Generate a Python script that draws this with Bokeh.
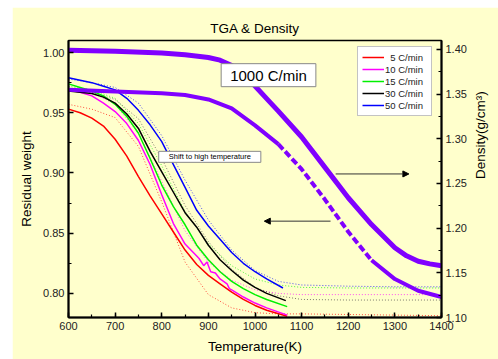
import math
from bokeh.plotting import figure
from bokeh.models import (Range1d, LinearAxis, SingleIntervalTicker, PrintfTickFormatter,
                          Legend, LegendItem, Label, Arrow, NormalHead)
from bokeh.embed import file_html
from bokeh.resources import INLINE

FONT = "Liberation Sans"
BG = "#FFFFCC"

# ---------------- data ----------------
rate_labels = ["5 C/min", "10 C/min", "15 C/min", "30 C/min", "50 C/min"]
rate_colors = ["#FF0000", "#FF00FF", "#00F000", "#000000", "#0000FF"]

# measured TGA (solid)
red_T = [600, 625, 650, 675, 700, 725, 750, 775, 800, 825, 850, 875, 900, 925, 950, 975, 1000, 1025, 1069]
red_w = [0.953, 0.950, 0.9455, 0.939, 0.928, 0.914, 0.897, 0.881, 0.866, 0.851, 0.836, 0.824, 0.815, 0.808, 0.801, 0.795, 0.790, 0.786, 0.781]

mag_T = [600, 625, 650, 675, 700, 725, 750, 775, 800, 825, 850, 875, 880, 890, 897, 905, 915, 925, 940, 945, 950, 975, 1000, 1025, 1069]
mag_w = [0.969, 0.967, 0.964, 0.958, 0.951, 0.941, 0.927, 0.907, 0.882, 0.858, 0.841, 0.831, 0.829, 0.823, 0.826, 0.818, 0.817, 0.812, 0.808, 0.804, 0.803, 0.797, 0.792, 0.788, 0.782]

grn_T = [600, 625, 650, 675, 700, 725, 750, 775, 800, 825, 850, 875, 900, 925, 950, 975, 1000, 1025, 1069]
grn_w = [0.974, 0.971, 0.968, 0.964, 0.957, 0.947, 0.933, 0.912, 0.890, 0.872, 0.857, 0.840, 0.828, 0.818, 0.810, 0.804, 0.799, 0.795, 0.789]

blk_T = [600, 625, 650, 675, 700, 725, 750, 775, 800, 825, 850, 875, 900, 925, 950, 975, 1000, 1025, 1066]
blk_w = [0.968, 0.967, 0.966, 0.963, 0.958, 0.949, 0.937, 0.918, 0.901, 0.884, 0.867, 0.855, 0.840, 0.828, 0.819, 0.811, 0.805, 0.800, 0.794]

blu_T = [600, 625, 650, 675, 700, 725, 750, 775, 800, 825, 850, 875, 900, 925, 950, 975, 1000, 1025, 1060]
blu_w = [0.979, 0.977, 0.975, 0.972, 0.969, 0.962, 0.952, 0.940, 0.926, 0.907, 0.888, 0.869, 0.856, 0.845, 0.834, 0.825, 0.818, 0.812, 0.8045]

# fitted TGA (dotted)
dot_T = [600, 650, 700, 750, 800, 850, 900, 950, 1000, 1050, 1100, 1200, 1300, 1400]
red_dot = [0.957, 0.953, 0.946, 0.922, 0.876, 0.826, 0.799, 0.788, 0.784, 0.783, 0.783, 0.7825, 0.782, 0.7815]
mag_dot = [0.970, 0.967, 0.957, 0.933, 0.893, 0.852, 0.826, 0.811, 0.803, 0.800, 0.799, 0.799, 0.799, 0.799]
grn_dot = [0.972, 0.969, 0.962, 0.941, 0.906, 0.868, 0.841, 0.823, 0.812, 0.807, 0.805, 0.8045, 0.8045, 0.8045]
blk_dot = [0.969, 0.967, 0.961, 0.945, 0.912, 0.873, 0.843, 0.820, 0.805, 0.798, 0.795, 0.7945, 0.7945, 0.7945]
blu_dot = [0.978, 0.975, 0.971, 0.958, 0.931, 0.894, 0.861, 0.836, 0.819, 0.810, 0.807, 0.806, 0.8055, 0.8055]

# density (right axis)
dh_T = [600, 700, 800, 850, 900, 925, 950, 975, 1000, 1025, 1050, 1100, 1150, 1200, 1250, 1300, 1325, 1350, 1375, 1400]
dens_high = [1.399, 1.398, 1.396, 1.394, 1.391, 1.388, 1.382, 1.372, 1.359, 1.345, 1.331, 1.302, 1.268, 1.234, 1.204, 1.178, 1.169, 1.163, 1.160, 1.158]
dl_T = [600, 700, 800, 850, 900, 950, 1000, 1050, 1100, 1150, 1200, 1250, 1300, 1350, 1400]
dens_low = [1.355, 1.353, 1.351, 1.349, 1.344, 1.334, 1.315, 1.294, 1.266, 1.232, 1.196, 1.164, 1.143, 1.130, 1.123]
dash_from, dash_to = 1050, 1250

x_ticks_interval = 100
w_range = (0.78, 1.01)
d_range = (1.10, 1.41)

# ---------------- figure ----------------
p = figure(width=486, height=352, output_backend="svg", toolbar_location=None,
           x_range=Range1d(600, 1400), y_range=Range1d(*w_range),
           min_border_left=56, min_border_right=55, min_border_top=33, min_border_bottom=42)
p.margin = (7, 0, 0, 12)
p.background_fill_color = BG
p.border_fill_color = BG
p.outline_line_color = "black"
p.outline_line_width = 1.5
p.xgrid.visible = False
p.ygrid.visible = False

p.title.text = "TGA & Density"
p.title.align = "center"
p.title.text_font = FONT
p.title.text_font_size = "13.5px"
p.title.text_font_style = "normal"
p.title.text_color = "black"

p.extra_y_ranges = {"dens": Range1d(*d_range)}
raxis = LinearAxis(y_range_name="dens")
p.add_layout(raxis, "right")

def style_axis(ax, label):
    ax.axis_label = label
    ax.axis_label_text_font = FONT
    ax.axis_label_text_font_size = "13.5px"
    ax.axis_label_text_font_style = "normal"
    ax.axis_label_text_color = "black"
    ax.major_label_text_font = FONT
    ax.major_label_text_font_size = "11px"
    ax.major_label_text_color = "#222222"
    ax.axis_line_width = 2
    ax.axis_line_color = "black"
    ax.major_tick_in = 5
    ax.major_tick_out = 0
    ax.minor_tick_in = 3
    ax.minor_tick_out = 0
    ax.major_tick_line_width = 1.5
    ax.minor_tick_line_width = 1.2
    ax.major_label_standoff = 4
    ax.axis_label_standoff = 6

xa = p.xaxis[0]
style_axis(xa, "Temperature(K)")
xa.ticker = SingleIntervalTicker(interval=x_ticks_interval, num_minor_ticks=2)

ya = p.yaxis[0]
style_axis(ya, "Residual weight")
ya.ticker = SingleIntervalTicker(interval=0.05, num_minor_ticks=2)
ya.formatter = PrintfTickFormatter(format="%.2f")

style_axis(raxis, "Density(g/cm\u00b3)")
raxis.ticker = SingleIntervalTicker(interval=0.05, num_minor_ticks=2)
raxis.formatter = PrintfTickFormatter(format="%.2f")
raxis.axis_label_orientation = math.pi / 2
raxis.axis_label_standoff = 11

# dotted fits
for xs, ys, c in [(dot_T, red_dot, rate_colors[0]), (dot_T, mag_dot, rate_colors[1]),
                  (dot_T, grn_dot, rate_colors[2]), (dot_T, blk_dot, "#444444"),
                  (dot_T, blu_dot, rate_colors[4])]:
    p.line(xs, ys, line_color=c, line_width=1, line_dash="1 2", line_alpha=0.7)

# solid measured lines
solid = []
for xs, ys, c in [(red_T, red_w, rate_colors[0]), (mag_T, mag_w, rate_colors[1]),
                  (grn_T, grn_w, rate_colors[2]), (blk_T, blk_w, rate_colors[3]),
                  (blu_T, blu_w, rate_colors[4])]:
    solid.append(p.line(xs, ys, line_color=c, line_width=1.5))

# density curves
PURPLE = "#8000FF"
p.line(dh_T, dens_high, line_color=PURPLE, line_width=5, y_range_name="dens")
i0 = dl_T.index(dash_from)
i1 = dl_T.index(dash_to)
p.line(dl_T[:i0 + 1], dens_low[:i0 + 1], line_color=PURPLE, line_width=4, y_range_name="dens")
p.line(dl_T[i0:i1 + 1], dens_low[i0:i1 + 1], line_color=PURPLE, line_width=4,
       line_dash="7 3", y_range_name="dens")
p.line(dl_T[i1:], dens_low[i1:], line_color=PURPLE, line_width=4, y_range_name="dens")

# legend
legend = Legend(items=[LegendItem(label=("\u2007" + l if len(l) < 8 else l), renderers=[r])
                       for l, r in zip(rate_labels, solid)],
                location=(289, 201), label_text_font=FONT, label_text_font_size="9.5px",
                label_text_color="#222222", glyph_width=22, glyph_height=12, label_height=12,
                label_width=42, label_standoff=1, spacing=0, padding=4, margin=0,
                border_line_color="#888888", border_line_width=1,
                background_fill_color="white", background_fill_alpha=1)
p.add_layout(legend)

# text boxes with shadows
def shadow_box(x, y, text, size, pad, off):
    sh = Label(x=x, y=y, text=text, text_align="center", text_baseline="middle",
               text_font=FONT, text_font_size=size, text_alpha=0,
               x_offset=off, y_offset=-off, padding=pad,
               background_fill_color="black", background_fill_alpha=1)
    fg = Label(x=x, y=y, text=text, text_align="center", text_baseline="middle",
               text_font=FONT, text_font_size=size, text_color="black", padding=pad,
               background_fill_color="white", background_fill_alpha=1,
               border_line_color="#888888", border_line_width=1)
    p.add_layout(sh)
    p.add_layout(fg)

shadow_box(1029, 0.9812, "1000 C/min", "15px", (9, 3), 5)
shadow_box(903, 0.9134, "Shift to high temperature", "7.5px", (10, 1), 4)

# arrows
p.add_layout(Arrow(end=NormalHead(size=6, fill_color="black", line_color="black"),
                   x_start=1173, y_start=0.8992, x_end=1330, y_end=0.8992,
                   line_color="#333333", line_width=1))
p.add_layout(Arrow(end=NormalHead(size=6, fill_color="black", line_color="black"),
                   x_start=1162, y_start=0.860, x_end=1020, y_end=0.860,
                   line_color="#333333", line_width=1))

open("out.html", "w").write(file_html(p, INLINE))
